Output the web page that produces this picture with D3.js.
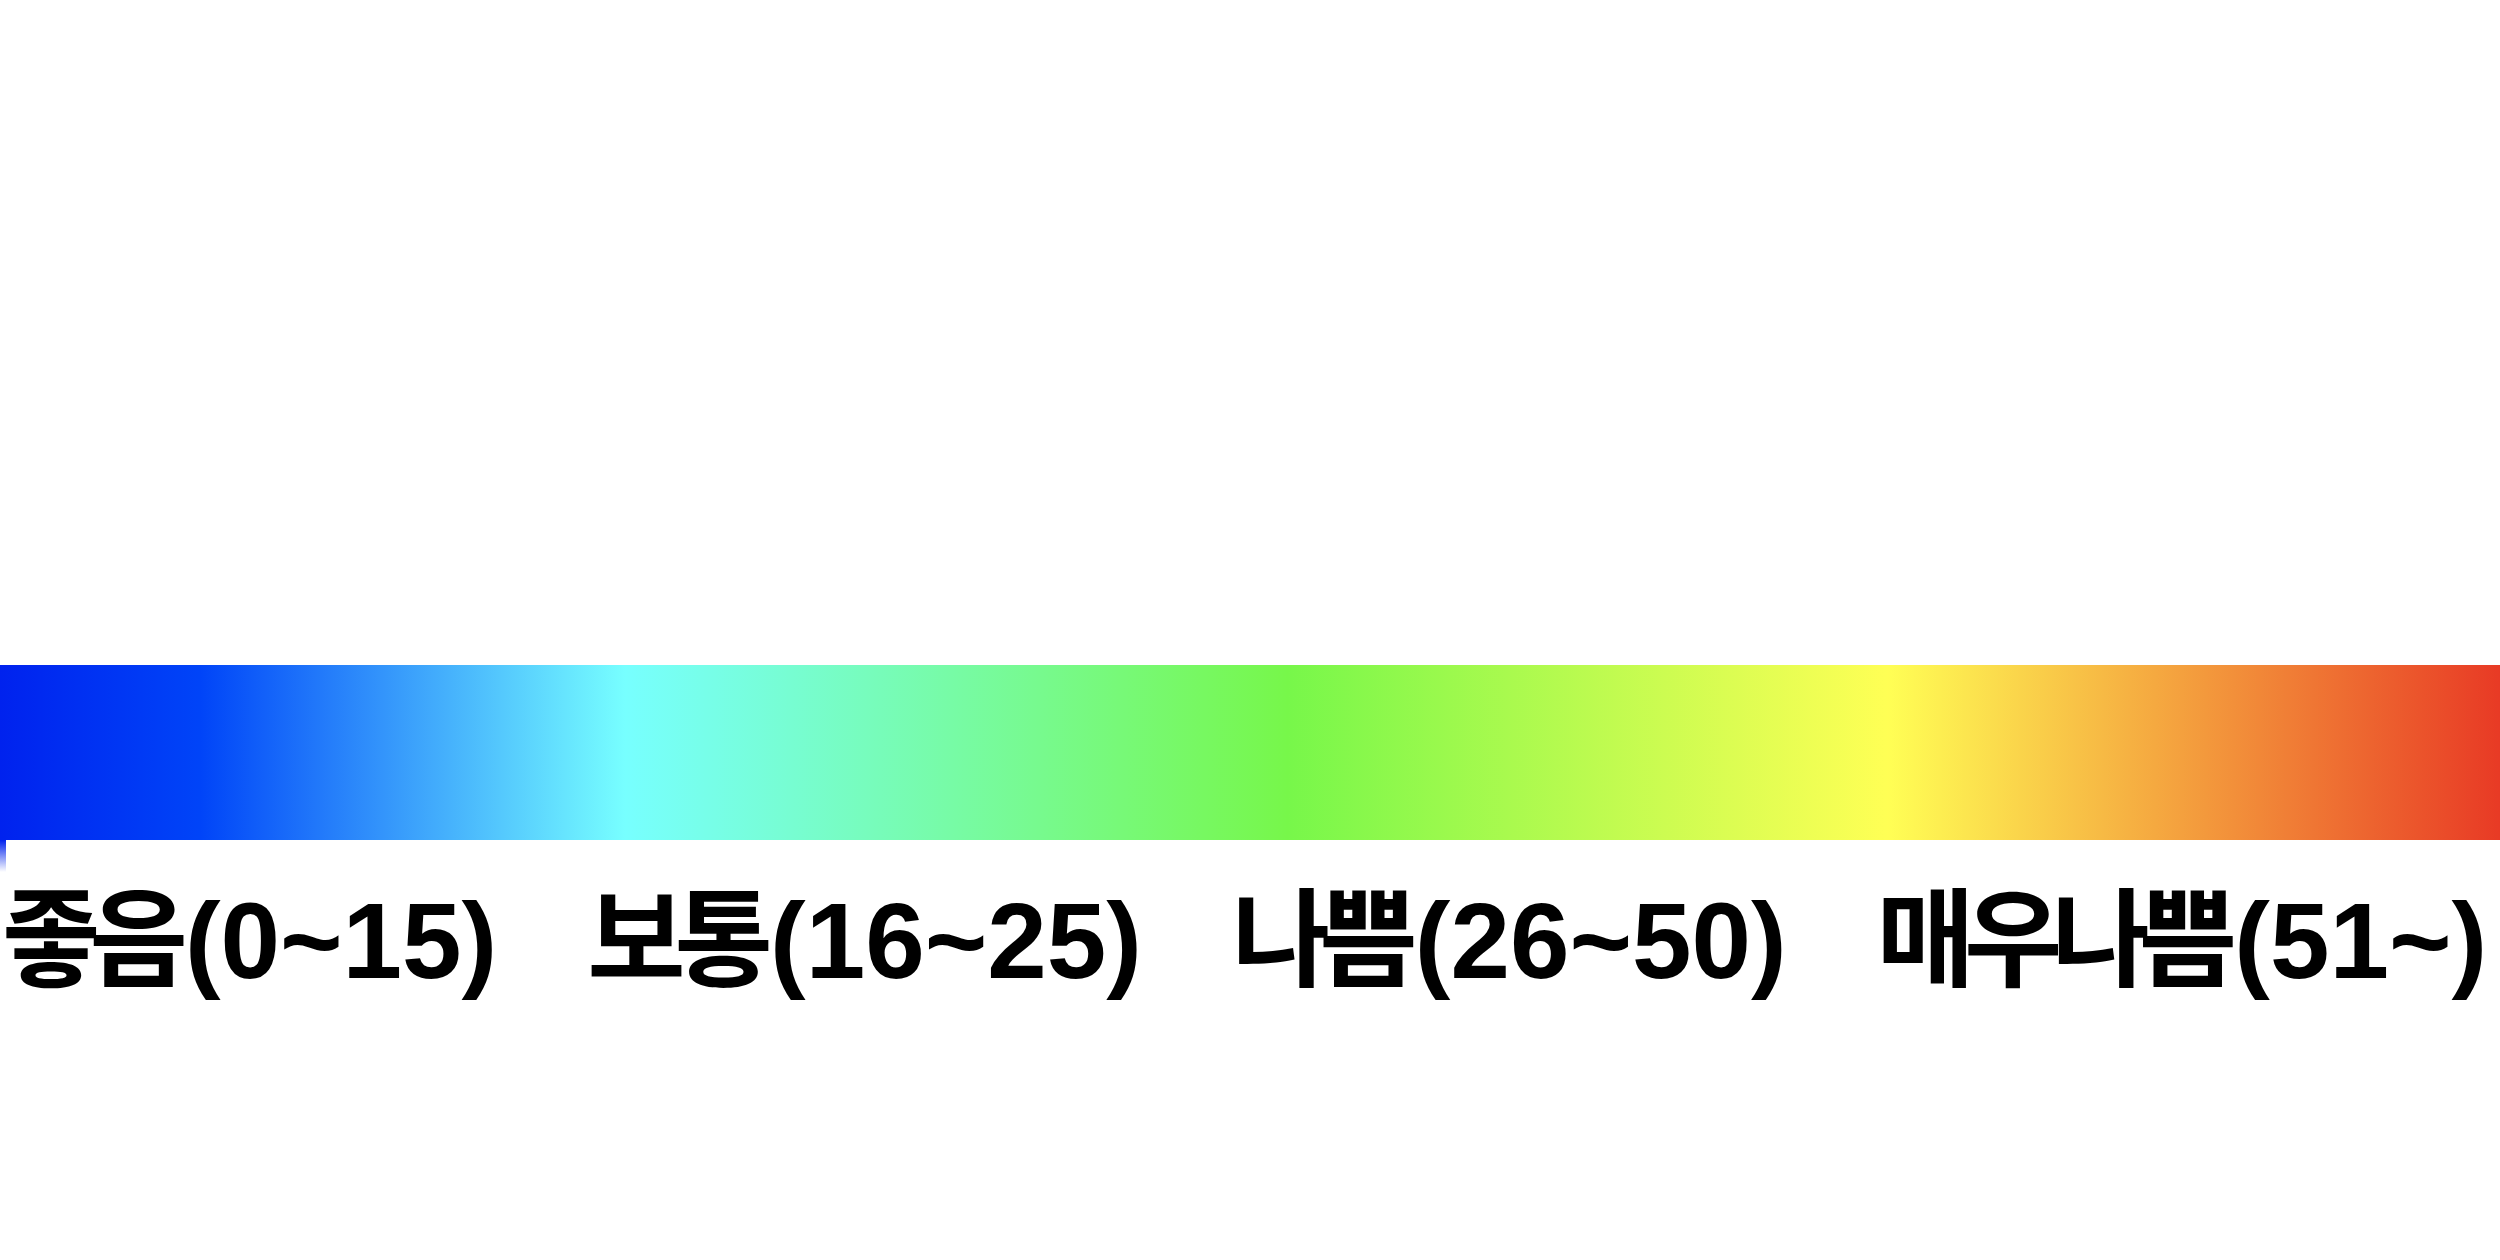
<!DOCTYPE html>
<html>
<head>
<meta charset="utf-8">
<script src="https://cdn.jsdelivr.net/npm/d3@7"></script>
<style>
  html, body { margin: 0; padding: 0; background: #ffffff; overflow: hidden; }
  svg { display: block; }
</style>
</head>
<body>
<script>
// ---- data ----
const stopOffsets = [0, 0.08, 0.25, 0.515, 0.755, 1];
const stopColors  = ["#0022ee", "#0044f8", "#77ffff", "#77f74a", "#ffff55", "#e83a25"];
const categoryNames  = ["좋음", "보통", "나쁨", "매우나쁨"];
const categoryRanges = ["(0~15)", "(16~25)", "(26~50)", "(51~)"];

// ---- layout ----
const W = 2500, H = 1260;
const barTop = 665, barBottom = 840;
const baseline = 978;
const fontSize = 107;
const labelGap = 90;

const svg = d3.select("body").append("svg")
  .attr("width", W).attr("height", H);

const x = d3.scaleLinear().domain([0, 1]).range([0, W]);
const y = d3.scaleLinear().domain([0, 1]).range([barTop, barBottom]);

const defs = svg.append("defs");
const grad = defs.append("linearGradient")
  .attr("id", "scaleGrad")
  .attr("gradientUnits", "userSpaceOnUse")
  .attr("x1", x(0)).attr("x2", x(1)).attr("y1", 0).attr("y2", 0);
grad.selectAll("stop")
  .data(d3.zip(stopOffsets, stopColors))
  .join("stop")
  .attr("offset", d => d[0])
  .attr("stop-color", d => d[1]);

const fade = defs.append("linearGradient")
  .attr("id", "fadeGrad").attr("x1", 0).attr("x2", 0).attr("y1", 0).attr("y2", 1);
fade.append("stop").attr("offset", 0).attr("stop-color", stopColors[0]).attr("stop-opacity", 1);
fade.append("stop").attr("offset", 1).attr("stop-color", stopColors[0]).attr("stop-opacity", 0);

// gradient bar
svg.append("rect")
  .attr("x", x(0)).attr("y", y(0))
  .attr("width", x(1) - x(0)).attr("height", y(1) - y(0))
  .attr("fill", "url(#scaleGrad)");

// small fading artifact under the left edge
svg.append("rect")
  .attr("x", x(0)).attr("y", y(1))
  .attr("width", 6).attr("height", 32)
  .attr("fill", "url(#fadeGrad)");

// labels
const g = svg.append("g");
let cursor = 2;
categoryNames.forEach((name, i) => {
  const t = g.append("text")
    .attr("x", cursor).attr("y", baseline)
    .attr("fill", "#000")
    .attr("font-weight", "bold")
    .attr("font-size", fontSize);
  t.append("tspan")
    .attr("font-family", "'Noto Sans CJK KR', sans-serif")
    .attr("letter-spacing", -11)
    .text(name);
  t.append("tspan")
    .attr("font-family", "'Liberation Sans', Arial, sans-serif")
    .attr("dx", 8)
    .text(categoryRanges[i]);
  const bb = t.node().getBBox();
  cursor = bb.x + bb.width + labelGap;
});
</script>
</body>
</html>
